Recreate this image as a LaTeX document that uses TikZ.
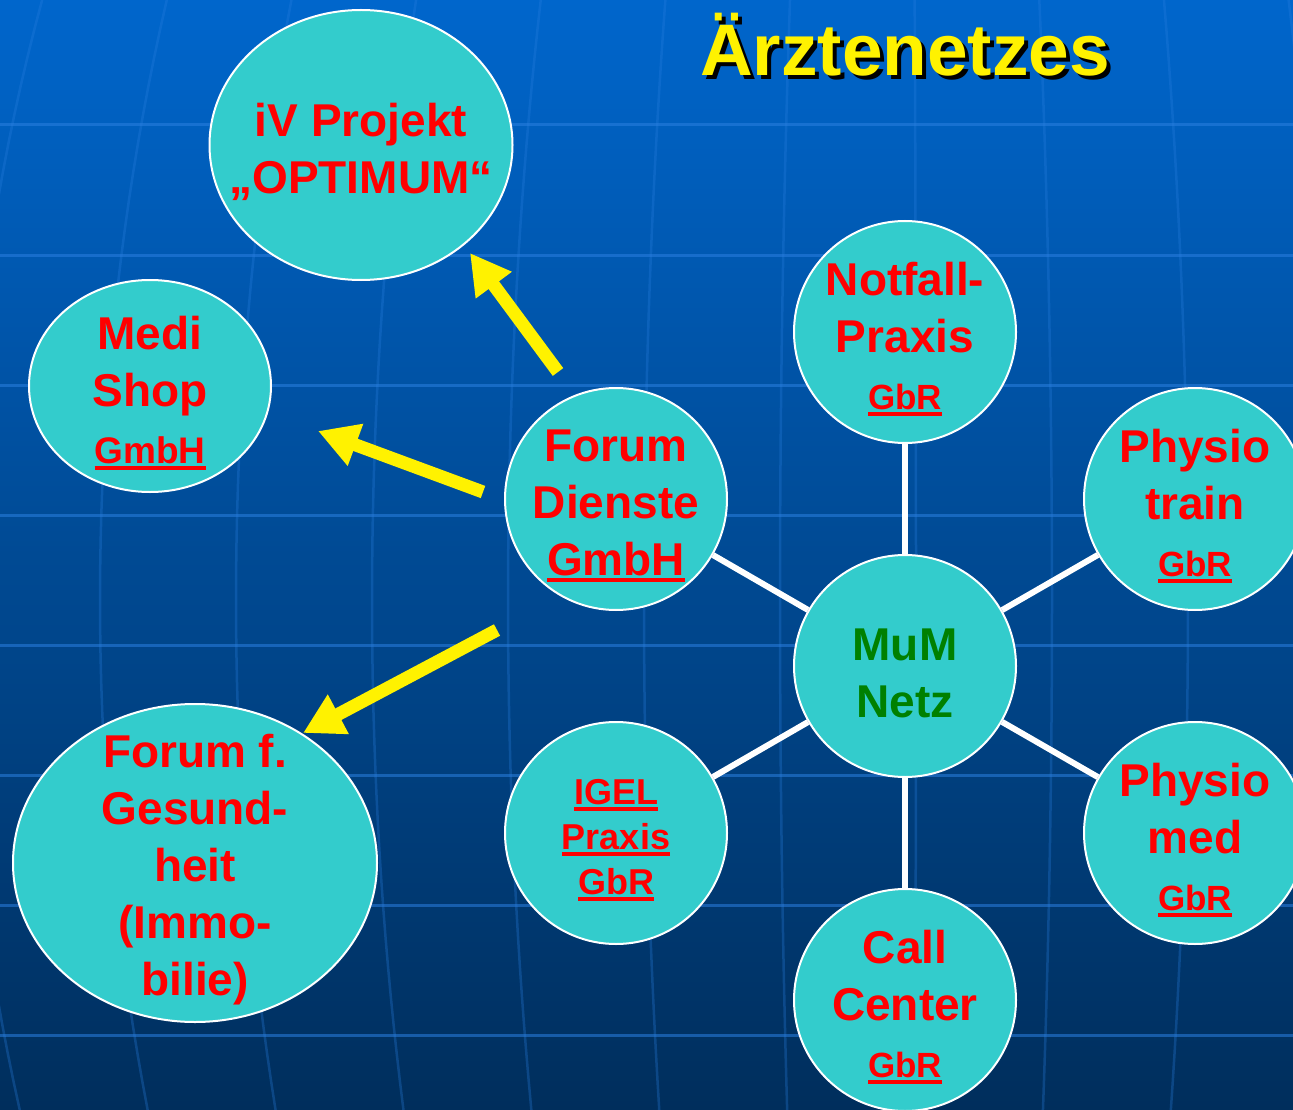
\documentclass[tikz,border=0pt]{standalone}
\usepackage{fontspec}
\setmainfont{Liberation Sans}
\usetikzlibrary{shapes.geometric,arrows.meta}

\definecolor{bgtop}{HTML}{0066CC}
\definecolor{bgmid}{HTML}{0052A6}
\definecolor{bgbot}{HTML}{002E5C}
\definecolor{gridline}{HTML}{2A7FE0}
\definecolor{bubblefill}{HTML}{33CCCC}
\definecolor{netzgreen}{HTML}{008000}

\newcommand\lgfont{\fontsize{46}{57}\selectfont}
\newcommand\smfont{\fontsize{35}{47}\selectfont}
\newcommand\igelfont{\fontsize{36}{45}\selectfont}
\newcommand\ulbar[1]{\setbox0\hbox{#1}\rlap{\vrule height -3pt depth 7pt width \wd0}\box0}

\tikzset{
  bubble/.style={circle, fill=bubblefill, draw=white, line width=2pt, minimum size=222pt, inner sep=0pt},
  oval/.style={ellipse, fill=bubblefill, draw=white, line width=2pt, inner sep=0pt},
  redtxt/.style={text=red, font=\bfseries\lgfont, align=center, inner sep=0pt, yshift=-7pt},
  link/.style={draw=white, line width=6pt},
  yarrow/.style={draw=yellow, line width=13pt, -{Triangle[length=40pt,width=42pt]}},
  gridh/.style={draw=gridline, opacity=0.55, line width=3pt},
  gridv/.style={draw=gridline, opacity=0.3, line width=2.5pt},
  titletxt/.style={anchor=base west, inner sep=0pt, font=\bfseries\fontsize{73}{80}\selectfont},
}

\begin{document}
\begin{tikzpicture}[x=1pt,y=-1pt]

%page is 1293 x 1110, y runs downwards
\useasboundingbox (0,0) rectangle (1293,1110);
\clip (0,0) rectangle (1293,1110);

%background with the globe grid
\shade[top color=bgtop, middle color=bgmid, bottom color=bgbot] (0,0) rectangle (1293,1110);

\foreach \h in {125,255,...,1040}{
    \draw[gridh] (0,\h) -- (1293,\h);
}

\foreach \k in {-1,...,9}{
    % meridians bend outwards, widest near y=600
    \pgfmathsetmacro{\off}{-800+136*\k}
    \draw[gridv] plot[domain=0:1110, samples=40, variable=\t] ({900+\off*sqrt(1-((\t-600)/1500)^2)},\t);
}

%title
\node[titletxt, text=black] (titleshadow) at (704,80) {Ärztenetzes};
\node[titletxt, text=yellow] (title) at (700,76) {Ärztenetzes};

%the bubbles
\node[oval, minimum width=303pt, minimum height=270pt] (optimum) at (361,145) {};
\node[oval, minimum width=242pt, minimum height=212pt] (medishop) at (150,386) {};
\node[oval, minimum width=364pt, minimum height=318pt] (gesundheit) at (195,863) {};
\node[bubble] (forum) at (616,499) {};
\node[bubble] (igel) at (616,833) {};
\node[bubble] (mum) at (905,666) {};
\node[bubble] (notfall) at (905,332) {};
\node[bubble] (callc) at (905,1000) {};
\node[bubble] (train) at (1195,499) {};
\node[bubble] (med) at (1195,833) {};

%spokes of the MuM net
\foreach \n in {notfall,train,med,callc,igel,forum}{
    \draw[link] (mum) -- (\n);
}

%texts
\node[redtxt] (optimum-t) at (optimum) {iV Projekt\\„OPTIMUM“};
\node[redtxt] (medishop-t) at (medishop) {Medi\\Shop\\\fontsize{37}{46}\selectfont\ulbar{GmbH}};
\node[redtxt] (gesundheit-t) at (gesundheit) {Forum f.\\Gesund-\\heit\\(Immo-\\bilie)};
\node[redtxt] (forum-t) at (forum) {Forum\\Dienste\\\ulbar{GmbH}};
\node[redtxt, font=\bfseries\igelfont] (igel-t) at (igel) {\ulbar{IGEL}\\\ulbar{Praxis}\\\ulbar{GbR}};
\node[redtxt, text=netzgreen] (mum-t) at (mum) {MuM\\Netz};
\node[redtxt] (notfall-t) at (notfall) {Notfall-\\Praxis\\\smfont\ulbar{GbR}};
\node[redtxt] (callc-t) at (callc) {Call\\Center\\\smfont\ulbar{GbR}};
\node[redtxt] (train-t) at (train) {Physio\\train\\\smfont\ulbar{GbR}};
\node[redtxt] (med-t) at (med) {Physio\\med\\\smfont\ulbar{GbR}};

%yellow arrows out of the Forum Dienste GmbH
\coordinate (a1s) at (558,372);
\coordinate (a1e) at (470,253);
\coordinate (a2s) at (483,492);
\coordinate (a2e) at (318,431);
\coordinate (a3s) at (497,630);
\coordinate (a3e) at (303,733);
\draw[yarrow] (a1s) -- (a1e);
\draw[yarrow] (a2s) -- (a2e);
\draw[yarrow] (a3s) -- (a3e);

\end{tikzpicture}
\end{document}
